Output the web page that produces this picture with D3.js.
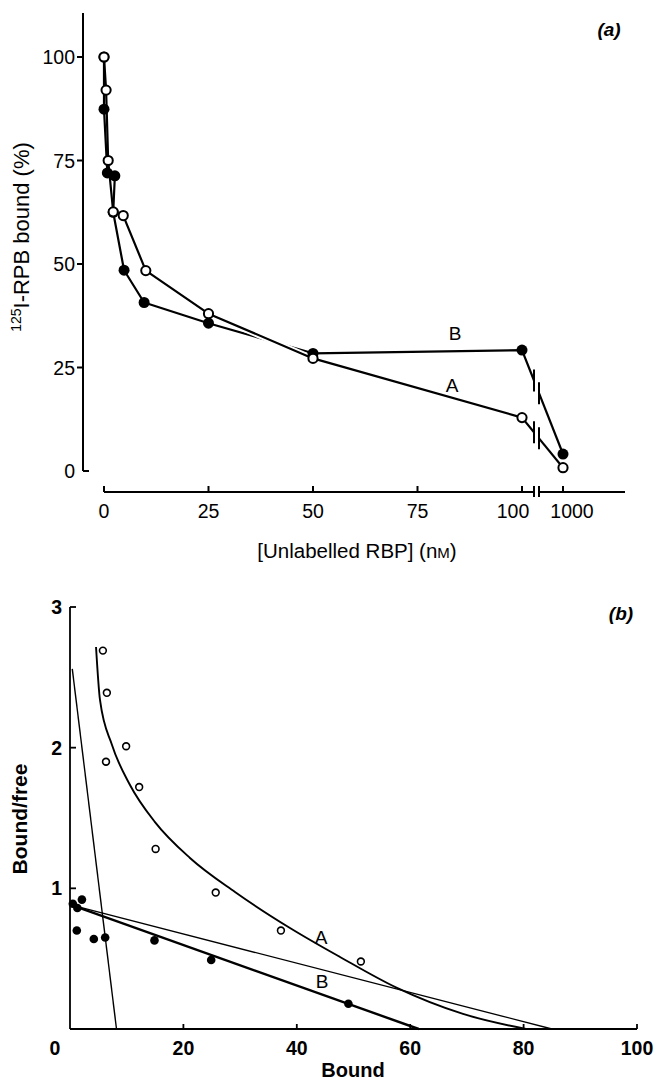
<!DOCTYPE html>
<html><head><meta charset="utf-8">
<script src="https://cdn.jsdelivr.net/npm/d3@7"></script>
<style>
body{margin:0;background:#fff;}
svg{display:block;font-family:"Liberation Sans", Arial, Helvetica, sans-serif;}
</style></head><body>
<svg id="chart" width="660" height="1082"></svg>
<script>
// ---- Panel (a): displacement of bound 125I-RBP by unlabelled RBP ----
const concA  = [0, 0.5, 1, 2.2, 4.6, 10, 25, 50, 100, 1000];
const boundA = [100, 92, 75, 62.6, 61.7, 48.4, 38, 27.2, 12.9, 0.8];
const concB  = [0, 0, 0.8, 2.6, 2.2, 4.8, 9.6, 25, 50, 100, 1000];
const boundB = [100, 87.4, 72, 71.3, 62.5, 48.5, 40.7, 35.7, 28.4, 29.2, 4.1];
const ticksAX = [0, 25, 50, 75, 100, 1000];
const ticksAY = [0, 25, 50, 75, 100];

// ---- Panel (b): Scatchard plot ----
const scatBoundA = [5.8, 6.5, 9.9, 6.35, 12.2, 15.1, 25.7, 37.2, 51.3];
const scatRatioA = [2.69, 2.39, 2.01, 1.90, 1.72, 1.28, 0.97, 0.70, 0.48];
const scatBoundB = [0.5, 1.3, 2.1, 1.2, 4.2, 6.2, 14.9, 24.9, 49.1];
const scatRatioB = [0.89, 0.86, 0.92, 0.70, 0.64, 0.65, 0.63, 0.49, 0.18];
const curveBoundA = [4.59, 5.29, 7.41, 10.58, 14.99, 21.16, 29.10, 38.80, 47.62, 57.67, 69.31, 80.42];
const curveRatioA = [2.716, 2.339, 2.019, 1.735, 1.471, 1.216, 0.974, 0.718, 0.512, 0.292, 0.107, 0];
const fitSteep = [[0.4, 2.56], [8.2, 0]];
const fitLineA = [[0.3, 0.88], [85, 0]];
const fitLineB = [[0.3, 0.88], [61.5, 0]];
const ticksBX = [0, 20, 40, 60, 80, 100];
const ticksBY = [1, 2, 3];

const svg = d3.select("#chart");
const zip = (xs, ys) => xs.map((x, i) => [x, ys[i]]);

// ================= Panel (a) =================
const xa = d3.scaleLinear().domain([0, 100, 1000]).range([104, 522, 563]);
const ya = d3.scaleLinear().domain([0, 100]).range([471, 57]);
const breakL = 534, breakR = 539;
const gA = svg.append("g");

// y axis
gA.append("line").attr("x1", 83).attr("x2", 83).attr("y1", ya(110.6)).attr("y2", ya(0))
  .attr("stroke", "#000").attr("stroke-width", 2);
ticksAY.forEach(v => {
  gA.append("line").attr("x1", v === 0 ? 83 : 77).attr("x2", v === 0 ? 89 : 83)
    .attr("y1", ya(v)).attr("y2", ya(v)).attr("stroke", "#000").attr("stroke-width", 2);
  gA.append("text").attr("x", 75).attr("y", ya(v)).attr("dy", "0.36em")
    .attr("text-anchor", "end").attr("font-size", 19.5).text(v);
});

// x axis with a break between 100 and 1000
const axY = 492;
gA.append("line").attr("x1", xa(0)).attr("x2", breakL).attr("y1", axY).attr("y2", axY)
  .attr("stroke", "#000").attr("stroke-width", 2);
gA.append("line").attr("x1", breakR).attr("x2", 625).attr("y1", axY).attr("y2", axY)
  .attr("stroke", "#000").attr("stroke-width", 2);
[breakL, breakR].forEach(bx => gA.append("line").attr("x1", bx).attr("x2", bx)
  .attr("y1", axY - 6).attr("y2", axY + 5).attr("stroke", "#000").attr("stroke-width", 2));
ticksAX.forEach(v => {
  gA.append("line").attr("x1", xa(v)).attr("x2", xa(v)).attr("y1", axY).attr("y2", axY - 6)
    .attr("stroke", "#000").attr("stroke-width", 2);
  const dx = v === 100 ? -9 : v === 1000 ? 9 : 0;
  gA.append("text").attr("x", xa(v) + dx).attr("y", 518).attr("text-anchor", "middle")
    .attr("font-size", 19.5).text(v);
});

// axis titles
const xt = gA.append("text").attr("x", 357).attr("y", 558).attr("text-anchor", "middle")
  .attr("font-size", 20.5);
xt.append("tspan").text("[Unlabelled RBP] (n");
xt.append("tspan").attr("font-size", 15).text("M");
xt.append("tspan").text(")");

const yt = gA.append("text").attr("transform", "translate(29,237) rotate(-90)")
  .attr("text-anchor", "middle").attr("font-size", 22);
yt.append("tspan").attr("font-size", 14).attr("dy", -8).text("125");
yt.append("tspan").attr("dy", 8).text("I-RPB bound (%)");

gA.append("text").attr("x", 609).attr("y", 36).attr("text-anchor", "middle")
  .attr("font-size", 19).attr("font-weight", "bold").attr("font-style", "italic").text("(a)");

// series lines, broken between 100 and 1000
const lineA = d3.line().x(d => xa(d[0])).y(d => ya(d[1]));
function brokenSeries(xs, ys) {
  const pts = zip(xs, ys).map(d => [xa(d[0]), ya(d[1])]);
  const n = pts.length;
  const p = pts[n - 2], q = pts[n - 1];
  const yAt = x => p[1] + (q[1] - p[1]) * (x - p[0]) / (q[0] - p[0]);
  gA.append("path").attr("d", d3.line()(pts.slice(0, n - 1).concat([[breakL, yAt(breakL)]])))
    .attr("fill", "none").attr("stroke", "#000").attr("stroke-width", 2.2).attr("stroke-linejoin", "round");
  gA.append("path").attr("d", d3.line()([[breakR, yAt(breakR)], q]))
    .attr("fill", "none").attr("stroke", "#000").attr("stroke-width", 2.2);
  [breakL, breakR].forEach(bx => gA.append("line").attr("x1", bx).attr("x2", bx)
    .attr("y1", yAt(bx) - 11).attr("y2", yAt(bx) + 11).attr("stroke", "#000").attr("stroke-width", 2));
}
brokenSeries(concB, boundB);
// curve A passes over B between 25 and 50 nM, drawn with a white gap
const crossA = zip(concA, boundA).filter(d => d[0] >= 25 && d[0] <= 50);
gA.append("path").attr("d", lineA(crossA)).attr("fill", "none")
  .attr("stroke", "#fff").attr("stroke-width", 6);
brokenSeries(concA, boundA);

gA.selectAll("circle.b").data(zip(concB, boundB)).join("circle")
  .attr("cx", d => xa(d[0])).attr("cy", d => ya(d[1])).attr("r", 5.5).attr("fill", "#000");
gA.selectAll("circle.a").data(zip(concA, boundA)).join("circle")
  .attr("cx", d => xa(d[0])).attr("cy", d => ya(d[1])).attr("r", 4.6)
  .attr("fill", "#fff").attr("stroke", "#000").attr("stroke-width", 2);

gA.append("text").attr("x", 455).attr("y", 340).attr("text-anchor", "middle").attr("font-size", 19).text("B");
gA.append("text").attr("x", 452).attr("y", 392).attr("text-anchor", "middle").attr("font-size", 19).text("A");

// ================= Panel (b) =================
const xb = d3.scaleLinear().domain([0, 100]).range([70, 637]);
const yb = d3.scaleLinear().domain([0, 3]).range([1029, 607]);
const gB = svg.append("g");

gB.append("line").attr("x1", xb(0)).attr("x2", xb(0)).attr("y1", yb(3)).attr("y2", yb(0))
  .attr("stroke", "#000").attr("stroke-width", 1.8);
gB.append("line").attr("x1", xb(0)).attr("x2", xb(100)).attr("y1", yb(0)).attr("y2", yb(0))
  .attr("stroke", "#000").attr("stroke-width", 1.8);
ticksBY.forEach(v => {
  gB.append("line").attr("x1", xb(0)).attr("x2", xb(0) + 6).attr("y1", yb(v)).attr("y2", yb(v))
    .attr("stroke", "#000").attr("stroke-width", 1.8);
  gB.append("text").attr("x", 62).attr("y", yb(v)).attr("dy", "0.36em").attr("text-anchor", "end")
    .attr("font-size", 19.5).attr("font-weight", "bold").text(v);
});
ticksBX.forEach(v => {
  if (v > 0) gB.append("line").attr("x1", xb(v)).attr("x2", xb(v)).attr("y1", yb(0)).attr("y2", yb(0) - 5)
    .attr("stroke", "#000").attr("stroke-width", 1.8);
  gB.append("text").attr("x", v === 0 ? xb(v) - 15 : xb(v)).attr("y", 1055).attr("text-anchor", "middle")
    .attr("font-size", 19.5).attr("font-weight", "bold").text(v);
});
gB.append("text").attr("x", 353).attr("y", 1077).attr("text-anchor", "middle")
  .attr("font-size", 20).attr("font-weight", "bold").text("Bound");
gB.append("text").attr("transform", "translate(27,819) rotate(-90)").attr("text-anchor", "middle")
  .attr("font-size", 21).attr("font-weight", "bold").text("Bound/free");
gB.append("text").attr("x", 621).attr("y", 620).attr("text-anchor", "middle")
  .attr("font-size", 19).attr("font-weight", "bold").attr("font-style", "italic").text("(b)");

const lineB = d3.line().x(d => xb(d[0])).y(d => yb(d[1]));
gB.append("path").attr("d", lineB(fitSteep)).attr("fill", "none").attr("stroke", "#000").attr("stroke-width", 1.4);
gB.append("path").attr("d", lineB(fitLineA)).attr("fill", "none").attr("stroke", "#000").attr("stroke-width", 1.3);
gB.append("path").attr("d", lineB(fitLineB)).attr("fill", "none").attr("stroke", "#000").attr("stroke-width", 2.4);
gB.append("path").attr("d", d3.line().x(d => xb(d[0])).y(d => yb(d[1])).curve(d3.curveMonotoneX)(zip(curveBoundA, curveRatioA)))
  .attr("fill", "none").attr("stroke", "#000").attr("stroke-width", 1.9);

gB.selectAll("circle.fb").data(zip(scatBoundB, scatRatioB)).join("circle")
  .attr("cx", d => xb(d[0])).attr("cy", d => yb(d[1])).attr("r", 4.3).attr("fill", "#000");
gB.selectAll("circle.oa").data(zip(scatBoundA, scatRatioA)).join("circle")
  .attr("cx", d => xb(d[0])).attr("cy", d => yb(d[1])).attr("r", 3.4)
  .attr("fill", "#fff").attr("stroke", "#000").attr("stroke-width", 1.6);

gB.append("text").attr("x", 321).attr("y", 944).attr("text-anchor", "middle").attr("font-size", 19).text("A");
gB.append("text").attr("x", 322).attr("y", 988).attr("text-anchor", "middle").attr("font-size", 19).text("B");
</script>
</body></html>
